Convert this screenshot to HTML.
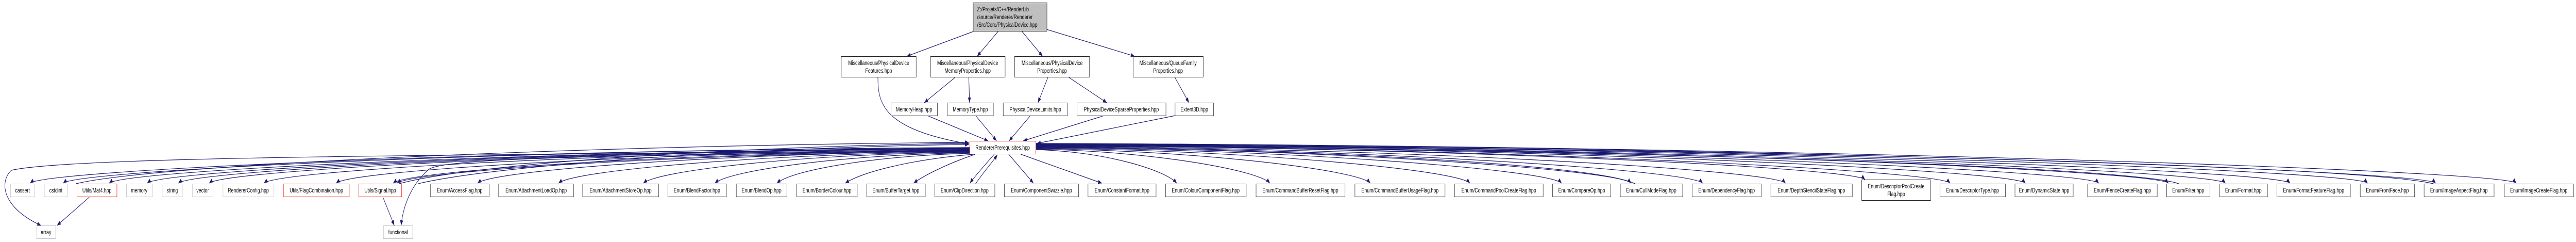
<!DOCTYPE html>
<html><head><meta charset="utf-8">
<style>
html,body{margin:0;padding:0;width:100%;height:100%;overflow:hidden;background:#fff;}
svg{display:block;position:absolute;left:0;top:0;width:100vw;height:100vh;}
text{font-family:"Liberation Sans",Arial,sans-serif;font-size:12px;fill:#000;}
.n rect{fill:#fff;stroke:#222;stroke-width:1;}
.g rect{fill:#fff;stroke:#bfbfbf;stroke-width:1;}
.r rect{fill:#fff;stroke:#ff0000;stroke-width:1;}
.s{fill:#777;stroke:none;}
</style></head><body>
<svg viewBox="0 0 6775 469" preserveAspectRatio="none" xmlns="http://www.w3.org/2000/svg">
<defs><marker id="a" markerUnits="userSpaceOnUse" markerWidth="11" markerHeight="8" refX="10" refY="4" orient="auto"><path d="M0,0 L10,4 L0,8z" fill="#191970"/></marker></defs>
<g fill="none" stroke="#191970" stroke-width="1.2" marker-end="url(#a)">
<path d="M2560,61 L2385,109"/>
<path d="M2625,61 L2570,109"/>
<path d="M2688,61 L2742,109"/>
<path d="M2753,57 L2984,109"/>
<path d="M2512,150 L2431,199"/>
<path d="M2548,150 L2550,199"/>
<path d="M2756,150 L2730,199"/>
<path d="M2811,150 L2911,199"/>
<path d="M3090,150 L3127,199"/>
<path d="M2442,225 L2599,273"/>
<path d="M2567,225 L2621,273"/>
<path d="M2709,225 L2654,273"/>
<path d="M2900,225 L2691,273"/>
<path d="M3091,224 L2727,278"/>
<path d="M2309,150 C2309,200 2320,250 2548,279"/>
<path d="M2550,286 C1314,290 119,330 79,355"/>
<path d="M2550,286 C1358,290 206,330 166,355"/>
<path d="M2550,288 C1418,292 327,330 287,355"/>
<path d="M2550,287 C1468,292 427,330 387,355"/>
<path d="M2550,288 C1510,292 509,330 469,355"/>
<path d="M2550,289 C1550,292 590,330 550,355"/>
<path d="M2550,290 C1622,294 734,330 694,355"/>
<path d="M2550,291 C1717,295 924,330 884,355"/>
<path d="M2550,292 C1792,296 1074,330 1034,355"/>
<path d="M2550,293 C1792,298 1084,332 1044,355"/>
<path d="M2550,293 C1903,297 1296,330 1256,355"/>
<path d="M2550,294 C2010,298 1509,330 1469,355"/>
<path d="M2550,295 C2121,298 1732,330 1692,355"/>
<path d="M2552,296 C2215,300 1920,330 1880,355"/>
<path d="M2555,297 C2296,302 2083,330 2043,355"/>
<path d="M2560,299 C2386,310 2263,335 2223,355"/>
<path d="M2565,299 C2480,320 2420,345 2403,355"/>
<path d="M2615,299 C2590,320 2560,345 2551,355"/>
<path d="M2566,356 C2590,330 2610,315 2623,300"/>
<path d="M2653,299 L2718,355"/>
<path d="M2685,299 L2898,355"/>
<path d="M2725,290 C2910,294 3065,330 3095,355"/>
<path d="M2725,289 C3032,293 3310,330 3340,355"/>
<path d="M2725,288 C3164,292 3574,330 3604,355"/>
<path d="M2725,287 C3295,291 3836,330 3866,355"/>
<path d="M2725,286 C3416,290 4077,330 4107,355"/>
<path d="M2725,285 C3507,289 4260,330 4290,355"/>
<path d="M2725,284 C3601,288 4448,330 4478,355"/>
<path d="M2725,283 C3710,287 4666,330 4696,355"/>
<path d="M2725,282 C3815,286 4875,325 4905,348"/>
<path d="M2725,282 C3927,286 5099,330 5129,355"/>
<path d="M2725,281 C4026,285 5297,330 5327,355"/>
<path d="M2725,281 C4122,285 5490,330 5520,355"/>
<path d="M2725,280 C4214,284 5673,330 5703,355"/>
<path d="M2725,280 C4289,284 5823,330 5853,355"/>
<path d="M2725,279 C4374,283 5993,330 6023,355"/>
<path d="M2725,279 C4476,283 6197,330 6227,355"/>
<path d="M2725,278 C4565,282 6376,330 6406,355"/>
<path d="M2725,278 C4671,282 6588,330 6618,355"/>
<path d="M5730,356 C5600,320 4000,285 2727,283"/>
<path d="M4300,356 C4200,320 3500,290 2727,285"/>
<path d="M6400,356 C6200,320 4500,285 2727,281"/>
<path d="M1100,356 C1300,320 2000,285 2548,280"/>
<path d="M1050,356 C1250,315 2000,282 2548,278"/>
<path d="M200,356 C400,320 1500,282 2548,276"/>
<path d="M2550,292 C1500,300 200,300 30,330 C0,350 0,400 108,437"/>
<path d="M235,382 L150,437"/>
<path d="M1007,382 L1037,437"/>
<path d="M2550,292 C1600,302 1150,305 1125,330 C1080,360 1060,400 1055,437"/>
</g>

<g class="n">
<rect x="2559.5" y="5.5" width="194" height="55" style="fill:#bfbfbf"/>
<text x="2570" y="22">Z:/Projets/C++/RenderLib</text>
<text x="2570" y="37">/source/Renderer/Renderer</text>
<text x="2570" y="52">/Src/Core/PhysicalDevice.hpp</text>

<rect x="2212.5" y="109.5" width="197" height="40"/><text x="2311" y="126" text-anchor="middle">Miscellaneous/PhysicalDevice</text><text x="2311" y="141" text-anchor="middle">Features.hpp</text>
<rect x="2447.5" y="109.5" width="196" height="40"/><text x="2545" y="126" text-anchor="middle">Miscellaneous/PhysicalDevice</text><text x="2545" y="141" text-anchor="middle">MemoryProperties.hpp</text>
<rect x="2668.5" y="109.5" width="197" height="40"/><text x="2767" y="126" text-anchor="middle">Miscellaneous/PhysicalDevice</text><text x="2767" y="141" text-anchor="middle">Properties.hpp</text>
<rect x="2980.5" y="109.5" width="184" height="40"/><text x="3072" y="126" text-anchor="middle">Miscellaneous/QueueFamily</text><text x="3072" y="141" text-anchor="middle">Properties.hpp</text>

<rect x="2343.5" y="199.5" width="122" height="25"/><text x="2404" y="216" text-anchor="middle">MemoryHeap.hpp</text>
<rect x="2491.5" y="199.5" width="121" height="25"/><text x="2552" y="216" text-anchor="middle">MemoryType.hpp</text>
<rect x="2638.5" y="199.5" width="169" height="25"/><text x="2723" y="216" text-anchor="middle">PhysicalDeviceLimits.hpp</text>
<rect x="2832.5" y="199.5" width="234" height="25"/><text x="2949" y="216" text-anchor="middle">PhysicalDeviceSparseProperties.hpp</text>
<rect x="3090.5" y="199.5" width="101" height="25"/><text x="3141" y="216" text-anchor="middle">Extent3D.hpp</text>
</g>

<g class="r">
<rect x="2550.5" y="273.5" width="174" height="25"/><text x="2637" y="290" text-anchor="middle">RendererPrerequisites.hpp</text>
<rect x="202.5" y="356.5" width="105" height="25"/><text x="255" y="373" text-anchor="middle">Utils/Mat4.hpp</text>
<rect x="745.5" y="356.5" width="173" height="25"/><text x="832" y="373" text-anchor="middle">Utils/FlagCombination.hpp</text>
<rect x="943.5" y="356.5" width="113" height="25"/><text x="1000" y="373" text-anchor="middle">Utils/Signal.hpp</text>
</g>

<g class="g">
<rect x="27.5" y="356.5" width="64" height="25"/><text x="59" y="373" text-anchor="middle">cassert</text>
<rect x="116.5" y="356.5" width="61" height="25"/><text x="147" y="373" text-anchor="middle">cstdint</text>
<rect x="332.5" y="356.5" width="68" height="25"/><text x="366" y="373" text-anchor="middle">memory</text>
<rect x="426.5" y="356.5" width="53" height="25"/><text x="453" y="373" text-anchor="middle">string</text>
<rect x="506.5" y="356.5" width="54" height="25"/><text x="533" y="373" text-anchor="middle">vector</text>
<rect x="586.5" y="356.5" width="134" height="25"/><text x="653" y="373" text-anchor="middle">RendererConfig.hpp</text>
<rect x="96.5" y="437.5" width="50" height="25"/><text x="121" y="454" text-anchor="middle">array</text>
<rect x="1008.5" y="437.5" width="77" height="25"/><text x="1047" y="454" text-anchor="middle">functional</text>
</g>

<g class="n">
<rect x="1132.5" y="356.5" width="154" height="25"/><text x="1209" y="373" text-anchor="middle">Enum/AccessFlag.hpp</text>
<rect x="1311.5" y="356.5" width="197" height="25"/><text x="1410" y="373" text-anchor="middle">Enum/AttachmentLoadOp.hpp</text>
<rect x="1532.5" y="356.5" width="200" height="25"/><text x="1632" y="373" text-anchor="middle">Enum/AttachmentStoreOp.hpp</text>
<rect x="1756.5" y="356.5" width="154" height="25"/><text x="1833" y="373" text-anchor="middle">Enum/BlendFactor.hpp</text>
<rect x="1936.5" y="356.5" width="133" height="25"/><text x="2003" y="373" text-anchor="middle">Enum/BlendOp.hpp</text>
<rect x="2095.5" y="356.5" width="159" height="25"/><text x="2175" y="373" text-anchor="middle">Enum/BorderColour.hpp</text>
<rect x="2279.5" y="356.5" width="154" height="25"/><text x="2356" y="373" text-anchor="middle">Enum/BufferTarget.hpp</text>
<rect x="2458.5" y="356.5" width="158" height="25"/><text x="2537" y="373" text-anchor="middle">Enum/ClipDirection.hpp</text>
<rect x="2641.5" y="356.5" width="195" height="25"/><text x="2739" y="373" text-anchor="middle">Enum/ComponentSwizzle.hpp</text>
<rect x="2861.5" y="356.5" width="179" height="25"/><text x="2951" y="373" text-anchor="middle">Enum/ConstantFormat.hpp</text>
<rect x="3065.5" y="356.5" width="212" height="25"/><text x="3171" y="373" text-anchor="middle">Enum/ColourComponentFlag.hpp</text>
<rect x="3303.5" y="356.5" width="234" height="25"/><text x="3420" y="373" text-anchor="middle">Enum/CommandBufferResetFlag.hpp</text>
<rect x="3563.5" y="356.5" width="237" height="25"/><text x="3682" y="373" text-anchor="middle">Enum/CommandBufferUsageFlag.hpp</text>
<rect x="3825.5" y="356.5" width="233" height="25"/><text x="3942" y="373" text-anchor="middle">Enum/CommandPoolCreateFlag.hpp</text>
<rect x="4083.5" y="356.5" width="153" height="25"/><text x="4160" y="373" text-anchor="middle">Enum/CompareOp.hpp</text>
<rect x="4261.5" y="356.5" width="164" height="25"/><text x="4343" y="373" text-anchor="middle">Enum/CullModeFlag.hpp</text>
<rect x="4450.5" y="356.5" width="182" height="25"/><text x="4541" y="373" text-anchor="middle">Enum/DependencyFlag.hpp</text>
<rect x="4657.5" y="356.5" width="214" height="25"/><text x="4764" y="373" text-anchor="middle">Enum/DepthStencilStateFlag.hpp</text>
<rect x="4896.5" y="348.5" width="181" height="40"/><text x="4987" y="365" text-anchor="middle">Enum/DescriptorPoolCreate</text><text x="4987" y="380" text-anchor="middle">Flag.hpp</text>
<rect x="5102.5" y="356.5" width="172" height="25"/><text x="5188" y="373" text-anchor="middle">Enum/DescriptorType.hpp</text>
<rect x="5299.5" y="356.5" width="153" height="25"/><text x="5376" y="373" text-anchor="middle">Enum/DynamicState.hpp</text>
<rect x="5490.5" y="356.5" width="183" height="25"/><text x="5582" y="373" text-anchor="middle">Enum/FenceCreateFlag.hpp</text>
<rect x="5698.5" y="356.5" width="114" height="25"/><text x="5755" y="373" text-anchor="middle">Enum/Filter.hpp</text>
<rect x="5837.5" y="356.5" width="126" height="25"/><text x="5900" y="373" text-anchor="middle">Enum/Format.hpp</text>
<rect x="5988.5" y="356.5" width="193" height="25"/><text x="6085" y="373" text-anchor="middle">Enum/FormatFeatureFlag.hpp</text>
<rect x="6207.5" y="356.5" width="143" height="25"/><text x="6279" y="373" text-anchor="middle">Enum/FrontFace.hpp</text>
<rect x="6375.5" y="356.5" width="184" height="25"/><text x="6467" y="373" text-anchor="middle">Enum/ImageAspectFlag.hpp</text>
<rect x="6586.5" y="356.5" width="182" height="25"/><text x="6677" y="373" text-anchor="middle">Enum/ImageCreateFlag.hpp</text>
</g>
</svg>
</body></html>
